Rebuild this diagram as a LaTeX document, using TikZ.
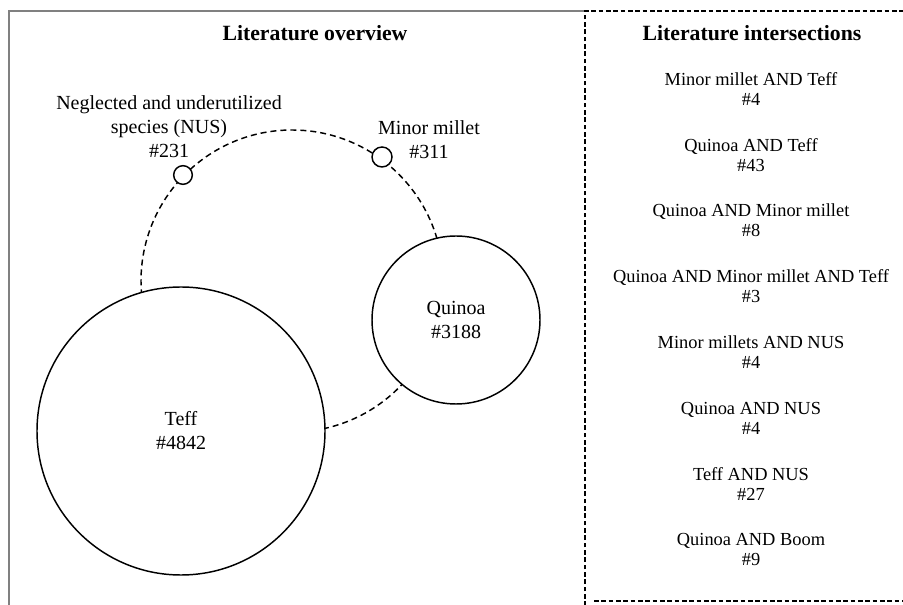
\documentclass[tikz,border=0pt]{standalone}
\usepackage{fontspec}
\setmainfont{Liberation Serif}
\begin{document}
\begin{tikzpicture}[x=0.75pt,y=-0.75pt,
  set/.style={circle,draw,line width=1.1pt,fill=white,inner sep=0pt,align=center,font=\fontsize{15}{18}\selectfont},
  lbl/.style={align=center,font=\fontsize{15}{18}\selectfont},
  item/.style={align=center,font=\fontsize{13.8}{15}\selectfont},
  heading/.style={font=\fontsize{16.3}{19}\selectfont\bfseries},
  frame/.style={line width=1.2pt,dash pattern=on 3.5pt off 2pt}]
\useasboundingbox (0,0) rectangle (903,605);
% panels
\draw[gray,line width=1.1pt] (9,606) -- (9,11) -- (585,11);
\draw[frame] (585,606) -- (585,11) -- (905,11);
\draw[frame] (594,601) -- (905,601);
\node[heading] (overview) at (315,33) {Literature overview};
\node[heading] (inter) at (752,33) {Literature intersections};

% overview
\draw[line width=1.1pt,dash pattern=on 4.5pt off 3pt] (292,281) circle[radius=151];
\node[set,minimum size=216pt] (teff) at (181,431) {Teff\\\#4842};
\node[set,minimum size=126pt] (quinoa) at (456,320) {Quinoa\\\#3188};
\node[set,minimum size=14pt] (nus) at (183,175) {};
\node[set,minimum size=15pt] (millet) at (382,157) {};
\node[lbl] (nuslbl) at (169,127) {Neglected and underutilized\\species (NUS)\\\#231};
\node[lbl] (milletlbl) at (429,140) {Minor millet\\\#311};

% intersections
\foreach \txt [count=\i] in {{Minor millet AND Teff\\\#4},{Quinoa AND Teff\\\#43},
  {Quinoa AND Minor millet\\\#8},{Quinoa AND Minor millet AND Teff\\\#3},
  {Minor millets AND NUS\\\#4},{Quinoa AND NUS\\\#4},{Teff AND NUS\\\#27},
  {Quinoa AND Boom\\\#9}}
  \node[item] (r\i) at (751,{89+65.8*(\i-1)}) {\txt};
\end{tikzpicture}
\end{document}
